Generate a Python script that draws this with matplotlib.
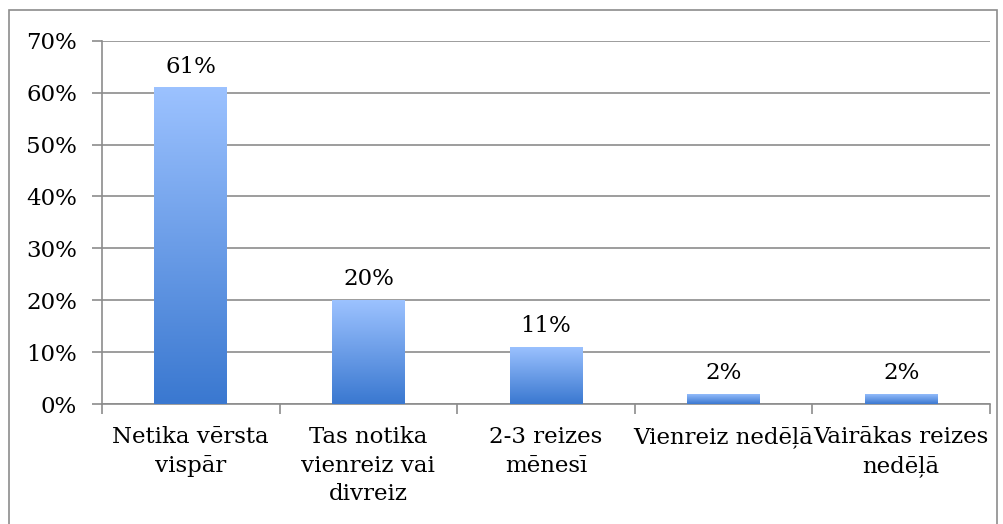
import numpy as np
import matplotlib
matplotlib.use("Agg")
import matplotlib.pyplot as plt
from matplotlib.colors import LinearSegmentedColormap
from matplotlib.patches import Rectangle
from matplotlib.ticker import PercentFormatter

categories = ["Netika vērsta\nvispār", "Tas notika\nvienreiz vai\ndivreiz",
              "2-3 reizes\nmēnesī", "Vienreiz nedēļā", "Vairākas reizes\nnedēļā"]
values = [0.61, 0.20, 0.11, 0.02, 0.02]
value_labels = ["61%", "20%", "11%", "2%", "2%"]

plt.rcParams['font.family'] = ['DejaVu Serif']
fs = 16.5

fig = plt.figure(figsize=(10.04, 5.24), dpi=100)
fig.patches.append(Rectangle((0.009, -0.05), 0.984, 1.03, transform=fig.transFigure,
                             fill=False, edgecolor='#8c8c8c', linewidth=1.2))
ax = fig.add_axes([0.1016, 0.229, 0.8844, 0.6932])

x = np.arange(len(categories))
bars = ax.bar(x, values, width=0.41, color='none', zorder=3)

cmap = LinearSegmentedColormap.from_list('grad', ['#3a78d0', '#9cc2ff'])
grad = np.linspace(0, 1, 256).reshape(-1, 1)
for b in bars:
    x0, y0 = b.get_x(), b.get_y()
    x1, y1 = x0 + b.get_width(), y0 + b.get_height()
    im = ax.imshow(grad, cmap=cmap, origin='lower', aspect='auto',
                   extent=[x0, x1, y0, y1], zorder=3)
    im.set_clip_path(b)

for xi, v, lab in zip(x, values, value_labels):
    ax.annotate(lab, (xi, v), xytext=(0, 7), textcoords='offset points',
                ha='center', va='bottom', fontsize=fs)

ax.set_xlim(-0.5, len(categories) - 0.5)
ax.set_ylim(0, 0.70)
ax.set_yticks(np.arange(0, 0.71, 0.10))
ax.yaxis.set_major_formatter(PercentFormatter(1.0, decimals=0))
ax.grid(axis='y', color='#8c8c8c', linewidth=1.2, zorder=0)
ax.set_axisbelow(True)

ax.set_xticks(x)
ax.set_xticklabels(categories, fontsize=fs, linespacing=1.38)
ax.set_xticks(np.arange(-0.5, len(categories)), minor=True)
ax.tick_params(axis='x', which='major', length=0, pad=16)
ax.tick_params(axis='x', which='minor', length=7, color='#8c8c8c', width=1.2)
ax.tick_params(axis='y', length=7, color='#8c8c8c', width=1.2, labelsize=fs, pad=11)

for s in ['top', 'right']:
    ax.spines[s].set_visible(False)
for s in ['left', 'bottom']:
    ax.spines[s].set_color('#8c8c8c')
    ax.spines[s].set_linewidth(1.2)

fig.savefig('out.png', dpi=100)
